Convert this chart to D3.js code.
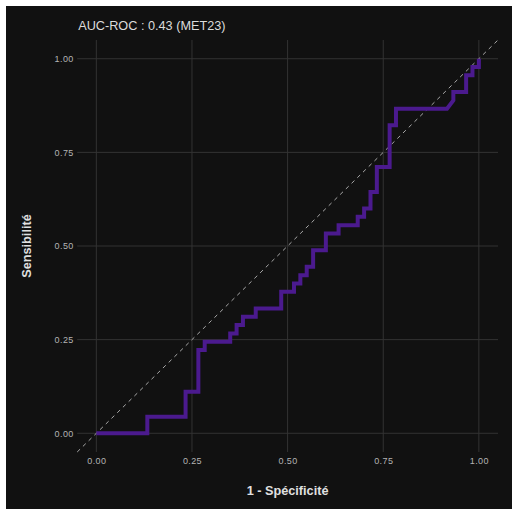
<!DOCTYPE html>
<html>
<head>
<meta charset="utf-8">
<script src="https://cdn.jsdelivr.net/npm/d3@7"></script>
<style>
  html, body { margin: 0; padding: 0; background: #ffffff; }
  svg { display: block; }
</style>
</head>
<body>
<script>
// ROC curve vertices: false positive rate (1 - specificity) and true positive rate
const fpr = [0.000, 0.1333, 0.1333, 0.2333, 0.2333, 0.2667, 0.2667, 0.2833, 0.2833,
             0.3500, 0.3500, 0.3667, 0.3667, 0.3833, 0.3833, 0.4167, 0.4167, 0.4833, 0.4833,
             0.5167, 0.5167, 0.5333, 0.5333, 0.5500, 0.5500, 0.5667, 0.5667, 0.6000, 0.6000,
             0.6333, 0.6333, 0.6833, 0.6833, 0.7000, 0.7000, 0.7167, 0.7167, 0.7333, 0.7333,
             0.7667, 0.7667, 0.7833, 0.7833, 0.9167, 0.9333, 0.9333, 0.9667, 0.9667,
             0.9833, 0.9833, 1.000, 1.000];
const tpr = [0.000, 0.000, 0.0444, 0.0444, 0.1111, 0.1111, 0.2222, 0.2222, 0.2444,
             0.2444, 0.2667, 0.2667, 0.2889, 0.2889, 0.3111, 0.3111, 0.3333, 0.3333, 0.3778,
             0.3778, 0.4000, 0.4000, 0.4222, 0.4222, 0.4444, 0.4444, 0.4889, 0.4889, 0.5333,
             0.5333, 0.5556, 0.5556, 0.5778, 0.5778, 0.6000, 0.6000, 0.6444, 0.6444, 0.7111,
             0.7111, 0.8222, 0.8222, 0.8667, 0.8667, 0.8889, 0.9111, 0.9111, 0.9556,
             0.9556, 0.9778, 0.9778, 1.000];
const tickValues = [0, 0.25, 0.5, 0.75, 1];
const tickLabels = ["0.00", "0.25", "0.50", "0.75", "1.00"];
const titleText = "AUC-ROC : 0.43 (MET23)";
const xTitle = "1 - Spécificité";
const yTitle = "Sensibilité";

const W = 512, H = 509;
const panel = { left: 77.2, right: 498, top: 40, bottom: 452 };
const font = "'Liberation Sans', Arial, sans-serif";

const svg = d3.select("body").append("svg").attr("width", W).attr("height", H);

// dark plot background
svg.append("rect").attr("x", 6).attr("y", 6).attr("width", W - 6).attr("height", H - 6)
  .attr("fill", "#111111");

const x = d3.scaleLinear().domain([-0.05, 1.05]).range([panel.left, panel.right]);
const y = d3.scaleLinear().domain([-0.05, 1.05]).range([panel.bottom, panel.top]);

// grid lines
const grid = svg.append("g").attr("stroke", "#333333").attr("stroke-width", 1);
grid.selectAll("line.v").data(tickValues).join("line").attr("class", "v")
  .attr("x1", d => x(d)).attr("x2", d => x(d))
  .attr("y1", panel.top).attr("y2", panel.bottom);
grid.selectAll("line.h").data(tickValues).join("line").attr("class", "h")
  .attr("y1", d => y(d)).attr("y2", d => y(d))
  .attr("x1", panel.left).attr("x2", panel.right);

// axes via d3 axis generators, styled to text-only
const xAxis = svg.append("g").attr("transform", `translate(0,${panel.bottom})`)
  .call(d3.axisBottom(x).tickValues(tickValues).tickFormat((d, i) => tickLabels[i])
    .tickSize(0).tickPadding(6));
const yAxis = svg.append("g").attr("transform", `translate(${panel.left},0)`)
  .call(d3.axisLeft(y).tickValues(tickValues).tickFormat((d, i) => tickLabels[i])
    .tickSize(0).tickPadding(3.5));
[xAxis, yAxis].forEach(a => {
  a.select(".domain").remove();
  a.selectAll("text").attr("fill", "#b4b4b4").style("font-family", font)
    .style("font-size", "9px").style("letter-spacing", "0.4px");
});

// chance diagonal
svg.append("line")
  .attr("x1", x(-0.05)).attr("y1", y(-0.05)).attr("x2", x(1.05)).attr("y2", y(1.05))
  .attr("stroke", "#a8a8a8").attr("stroke-width", 1).attr("stroke-dasharray", "4,4");

// ROC curve
const pts = fpr.map((f, i) => [f, tpr[i]]);
svg.append("path").datum(pts)
  .attr("d", d3.line().x(d => x(d[0])).y(d => y(d[1])))
  .attr("fill", "none").attr("stroke", "#4b1a8e").attr("stroke-width", 4)
  .attr("stroke-linejoin", "miter").attr("stroke-linecap", "butt");

// titles
svg.append("text").attr("x", panel.left + 1).attr("y", 30)
  .attr("fill", "#dcdcdc").style("font-family", font).style("font-size", "12.7px")
  .text(titleText);
svg.append("text").attr("x", x(0.5)).attr("y", 495).attr("text-anchor", "middle")
  .attr("fill", "#e0e0e0").style("font-family", font).style("font-size", "12.7px")
  .style("font-weight", "bold").text(xTitle);
svg.append("text").attr("transform", `translate(31,${(panel.top + panel.bottom) / 2}) rotate(-90)`)
  .attr("text-anchor", "middle")
  .attr("fill", "#e0e0e0").style("font-family", font).style("font-size", "12.7px")
  .style("font-weight", "bold").text(yTitle);
</script>
</body>
</html>
